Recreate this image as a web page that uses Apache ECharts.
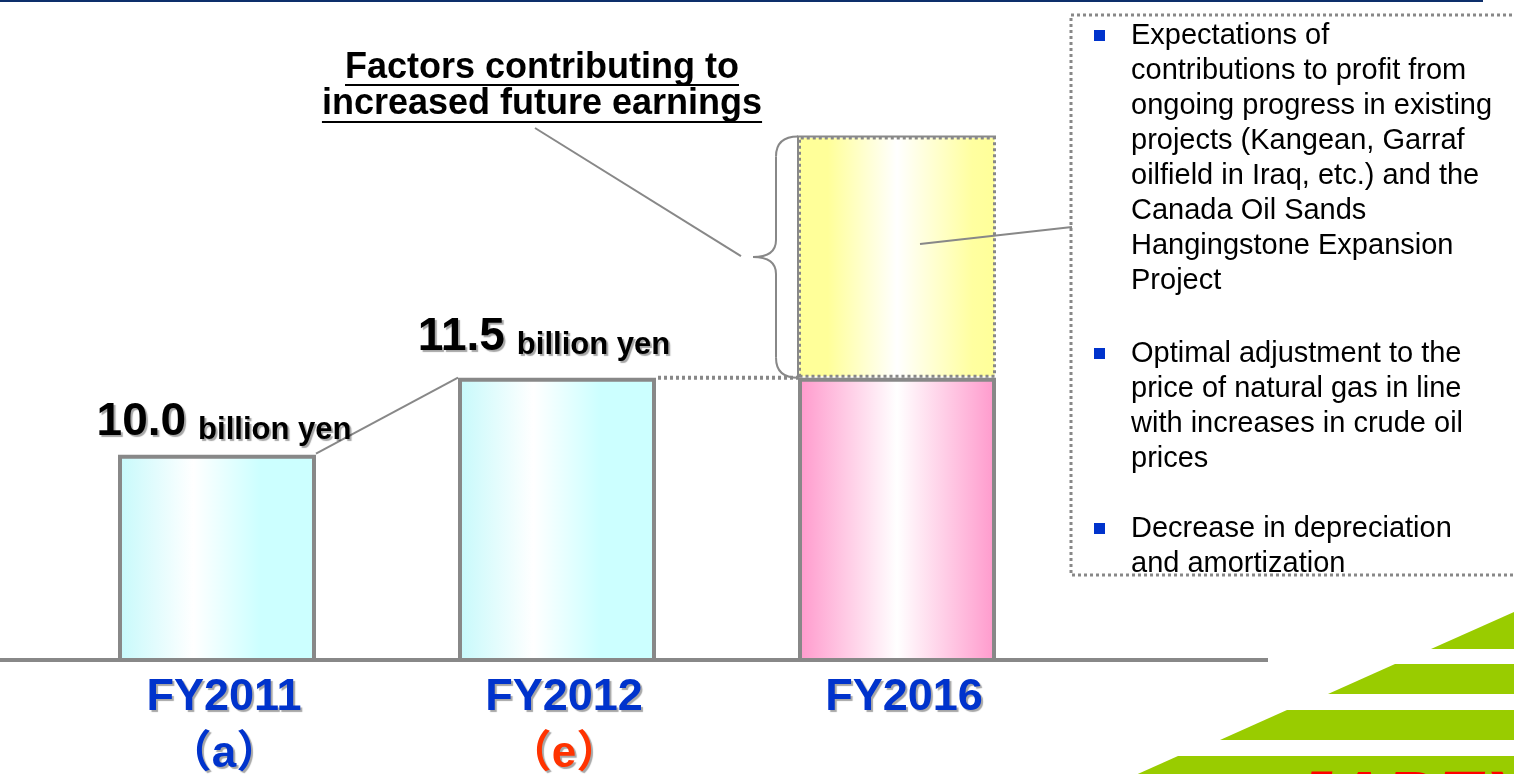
<!DOCTYPE html>
<html>
<head>
<meta charset="utf-8">
<title>Factors contributing to increased future earnings</title>
<script src="https://cdn.jsdelivr.net/npm/echarts@6/dist/echarts.min.js"></script>
<style>
  html, body { margin: 0; padding: 0; background: #fff; }
  #chart { width: 1514px; height: 774px; }
</style>
</head>
<body>
<div id="chart"></div>
<script>
// data (billion yen)
const categories = ['FY2011', 'FY2012', 'FY2016']
const periodMarks = ['（a）', '（e）', '']
const periodStyles = ['a', 'e', '']
const resultValues = [10.0, 11.5, '-']
const baseValues = ['-', '-', 11.5]
const factorValues = ['-', '-', 4.7]
const unitText = 'billion yen'
const titleLines = ['Factors contributing to', 'increased future earnings']
const bullets = [
  ['Expectations of', 'contributions to profit from', 'ongoing progress in existing',
    'projects (Kangean, Garraf', 'oilfield in Iraq, etc.) and the', 'Canada Oil Sands',
    'Hangingstone Expansion', 'Project'],
  ['Optimal adjustment to the', 'price of natural gas in line', 'with increases in crude oil', 'prices'],
  ['Decrease in depreciation', 'and amortization']
]

const FONT = '"Liberation Sans", Arial, Helvetica, sans-serif'
const CJK = '"Liberation Sans", Arial, "Noto Sans CJK JP", sans-serif'
const GRAY = '#888888'
const BAR_W = 198
// label tweaks per bar (distance, offset)
const labelTweaks = [
  { distance: 9, offset: [7, 0] },
  { distance: 17, offset: [-13, 0] }
]

const grad = (stops) => new echarts.graphic.LinearGradient(0, 0, 1, 0, stops)
const cyanFill = grad([
  { offset: 0, color: '#c6f9fb' },
  { offset: 0.38, color: '#ffffff' },
  { offset: 0.72, color: '#ccffff' },
  { offset: 1, color: '#ccffff' }
])
const pinkFill = grad([
  { offset: 0, color: '#ff99cc' },
  { offset: 0.5, color: '#ffffff' },
  { offset: 1, color: '#ff99cc' }
])
const yellowFill = grad([
  { offset: 0, color: '#ffff99' },
  { offset: 0.15, color: '#ffff99' },
  { offset: 0.5, color: '#ffffff' },
  { offset: 0.88, color: '#ffffa0' },
  { offset: 1, color: '#ffff99' }
])

const shadowTxt = { textShadowColor: 'rgba(0,0,0,0.35)', textShadowOffsetX: 2, textShadowOffsetY: 2, textShadowBlur: 1 }

const chart = echarts.init(document.getElementById('chart'), null, { renderer: 'canvas' })

const option = {
  backgroundColor: '#ffffff',
  animation: false,
  grid: { left: 47, width: 1020, top: 121, bottom: 114, containLabel: false, outerBoundsMode: 'none' },
  xAxis: {
    type: 'category',
    data: categories,
    axisLine: { show: false },
    axisTick: { show: false },
    axisLabel: {
      margin: 12,
      interval: 0,
      formatter: (value, idx) => {
        let s = '{fy|' + value + '}'
        if (periodMarks[idx]) s += '\n{' + periodStyles[idx] + '|' + periodMarks[idx] + '}'
        return s
      },
      rich: {
        fy: Object.assign({ fontFamily: FONT, fontSize: 45, fontWeight: 'bold', color: '#0033cc', lineHeight: 52, padding: [0, 0, 0, 14] }, shadowTxt),
        a: Object.assign({ fontFamily: CJK, fontSize: 44, fontWeight: 'bold', color: '#0033cc', lineHeight: 62, padding: [0, 0, 0, 14] }, shadowTxt),
        e: Object.assign({ fontFamily: CJK, fontSize: 44, fontWeight: 'bold', color: '#ff3300', lineHeight: 62, padding: [0, 0, 0, 14] }, shadowTxt)
      }
    }
  },
  yAxis: { type: 'value', min: 6, max: 16.5, show: false, splitLine: { show: false } },
  series: [
    {
      name: 'result',
      type: 'bar',
      stack: 'total',
      barWidth: BAR_W,
      clip: true,
      data: resultValues.map((v, i) => (v === '-' ? v : { value: v, label: labelTweaks[i] })),
      itemStyle: { color: cyanFill, borderColor: GRAY, borderWidth: 4 },
      label: {
        show: true,
        position: 'top',
        formatter: p => '{num|' + p.value.toFixed(1) + '}{unit|' + unitText + '}',
        rich: {
          num: Object.assign({ fontFamily: FONT, fontSize: 46, fontWeight: 'bold', color: '#000', lineHeight: 46, verticalAlign: 'bottom' }, shadowTxt),
          unit: Object.assign({ fontFamily: FONT, fontSize: 31, fontWeight: 'bold', color: '#000', lineHeight: 36, verticalAlign: 'bottom', padding: [0, 0, 0, 12] }, shadowTxt)
        }
      }
    },
    {
      name: 'base',
      type: 'bar',
      stack: 'total',
      barWidth: BAR_W,
      clip: true,
      data: baseValues,
      itemStyle: { color: pinkFill, borderColor: GRAY, borderWidth: 4 }
    },
    {
      name: 'factors',
      type: 'bar',
      stack: 'total',
      barWidth: BAR_W,
      clip: true,
      data: factorValues,
      itemStyle: { color: yellowFill, borderColor: GRAY, borderWidth: 3, borderType: [3, 3] }
    }
  ]
}
chart.setOption(option)

// ---- annotations drawn from the axis positions ----
const px = (i, v) => chart.convertToPixel({ seriesIndex: 0 }, [i, v])
const half = BAR_W / 2
const axisY = px(0, 6)[1]
const p11 = px(0, resultValues[0])
const p12 = px(1, resultValues[1])
const p16a = px(2, baseValues[2])
const p16b = px(2, baseValues[2] + factorValues[2])

const bx = p16a[0] - half // left edge of FY2016 bar
const topY = p16b[1]
const botY = p16a[1]
const tipY = (topY + botY) / 2
const braceX = bx - 22
const tipX = bx - 45

const measure = document.createElement('canvas').getContext('2d')
function textWidth (txt, font) {
  measure.font = font
  return measure.measureText(txt).width
}

const TITLE_X = 542
const titleFont = 'bold 36px ' + FONT
const titleMid = [68, 104]
const titleUnder = [85, 122]

const graphics = []
const thin = { stroke: GRAY, lineWidth: 2, fill: null }
// top rule
graphics.push({ type: 'rect', shape: { x: 0, y: 0, width: 1483, height: 2 }, style: { fill: '#0d2f6b' } })
// baseline
graphics.push({ type: 'line', shape: { x1: 0, y1: axisY, x2: 1268, y2: axisY }, style: { stroke: GRAY, lineWidth: 4 }, z: 10 })

// connectors
graphics.push({ type: 'line', shape: { x1: p11[0] + half, y1: p11[1] - 1, x2: p12[0] - half, y2: p12[1] }, style: thin })
graphics.push({ type: 'line', shape: { x1: p12[0] + half + 2, y1: p12[1], x2: bx, y2: p12[1] }, style: { stroke: GRAY, lineWidth: 4, lineDash: [3, 3] } })

// thin solid frame around the dotted increase segment
graphics.push({ type: 'polyline', shape: { points: [[bx, botY], [bx, topY], [bx + BAR_W, topY]] }, style: { stroke: GRAY, lineWidth: 2, fill: null }, z: 5 })

// curly brace beside the FY2016 increase
graphics.push({ type: 'bezierCurve', shape: { x1: bx, y1: topY, cpx1: braceX, cpy1: topY, x2: braceX, y2: topY + 20 }, style: thin })
graphics.push({ type: 'line', shape: { x1: braceX, y1: topY + 20, x2: braceX, y2: tipY - 17 }, style: thin })
graphics.push({ type: 'bezierCurve', shape: { x1: braceX, y1: tipY - 17, cpx1: braceX, cpy1: tipY, x2: tipX, y2: tipY }, style: thin })
graphics.push({ type: 'bezierCurve', shape: { x1: tipX, y1: tipY, cpx1: braceX, cpy1: tipY, x2: braceX, y2: tipY + 17 }, style: thin })
graphics.push({ type: 'line', shape: { x1: braceX, y1: tipY + 17, x2: braceX, y2: botY - 20 }, style: thin })
graphics.push({ type: 'bezierCurve', shape: { x1: braceX, y1: botY - 20, cpx1: braceX, cpy1: botY, x2: bx, y2: botY }, style: thin })

graphics.push({ type: 'line', shape: { x1: 535, y1: 128, x2: tipX - 12, y2: tipY - 1 }, style: thin })
graphics.push({ type: 'line', shape: { x1: p16a[0] + 23, y1: tipY - 13, x2: 1072, y2: 227 }, style: thin, z: 20 })

// title
titleLines.forEach((t, i) => {
  graphics.push({
    type: 'text',
    x: TITLE_X,
    y: titleMid[i],
    style: { text: t, font: titleFont, fill: '#000', align: 'center', verticalAlign: 'middle' }
  })
  const w = textWidth(t, titleFont)
  graphics.push({ type: 'line', shape: { x1: TITLE_X - w / 2, y1: titleUnder[i], x2: TITLE_X + w / 2, y2: titleUnder[i] }, style: { stroke: '#000', lineWidth: 2 } })
})

// explanation box
graphics.push({ type: 'rect', shape: { x: 1071, y: 15, width: 460, height: 560 }, style: { fill: null, stroke: GRAY, lineWidth: 3, lineDash: [3, 3] } })
const paraTops = [18, 336, 511]
const bulletTops = [30, 348, 523]
bullets.forEach((lines, i) => {
  graphics.push({ type: 'rect', shape: { x: 1094, y: bulletTops[i], width: 11, height: 11 }, style: { fill: '#0033cc' } })
  graphics.push({
    type: 'text',
    x: 1131,
    y: paraTops[i],
    style: { text: lines.join('\n'), font: '29px ' + FONT, lineHeight: 35, fill: '#000', align: 'left', verticalAlign: 'top' }
  })
})

// logo corner
const GREEN = '#99cc00'
const stripes = [
  [[1431, 649], [1514, 612], [1520, 612], [1520, 649]],
  [[1395, 664], [1520, 664], [1520, 694], [1328, 694]],
  [[1287, 710], [1520, 710], [1520, 740], [1220, 740]],
  [[1178, 756], [1520, 756], [1520, 790], [1102, 790]]
]
stripes.forEach(pts => graphics.push({ type: 'polygon', shape: { points: pts }, style: { fill: GREEN } }))
graphics.push({
  type: 'text', x: 1290, y: 766,
  style: { text: 'JAPEX', font: 'italic bold 74px ' + FONT, fill: '#ff0000', align: 'left', verticalAlign: 'top' }
})

chart.setOption({ graphic: graphics })
</script>
</body>
</html>
